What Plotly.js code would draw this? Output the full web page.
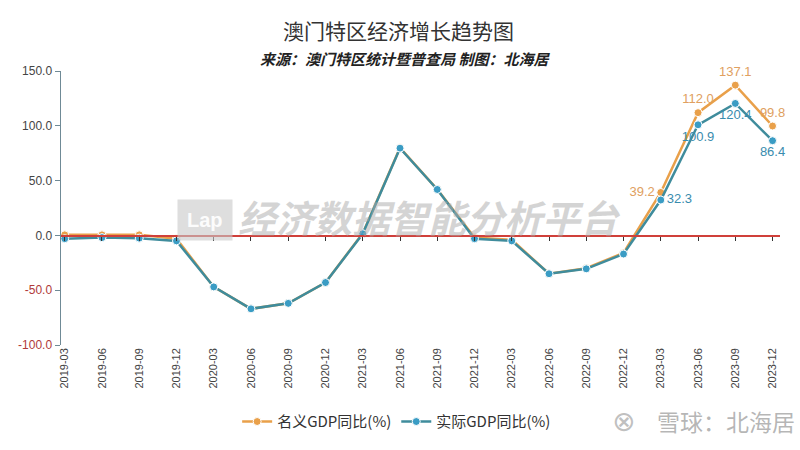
<!DOCTYPE html>
<html>
<head>
<meta charset="utf-8">
<script src="https://cdn.plot.ly/plotly-3.0.1.min.js"></script>
<style>html,body{margin:0;padding:0;background:#fff;}#chart{width:800px;height:450px;}</style>
</head>
<body>
<div id="chart"></div>
<script>
const quarters = ["2019-03","2019-06","2019-09","2019-12","2020-03","2020-06","2020-09","2020-12",
  "2021-03","2021-06","2021-09","2021-12","2022-03","2022-06","2022-09","2022-12",
  "2023-03","2023-06","2023-09","2023-12"];
const nominalGDP = [0.5,0.5,0.5,-3,-47,-67,-62,-43,2,80,42,-2,-4,-35,-30,-16,39.2,112.0,137.1,99.8];
const realGDP = [-3,-2,-2.5,-5,-47,-67,-62,-43,1.5,79.6,41.9,-3,-5,-35,-30.5,-17,32.3,100.9,120.4,86.4];
const nominalLabels = ["","","","","","","","","","","","","","","","","39.2","112.0","137.1","99.8"];
const realLabels = ["","","","","","","","","","","","","","","","","32.3","100.9","120.4","86.4"];
const yTicks = [-100,-50,0,50,100,150];

const orange = '#e9a04a';
const blueLine = '#3f8c9c';
const blueMarker = '#3a9cc4';

const nomPos = nominalLabels.map((t,i)=> i===16 ? 'middle left' : 'top center');
const realPos = realLabels.map((t,i)=> i===16 ? 'middle right' : 'bottom center');

const traces = [
  {x: quarters, y: nominalGDP, type:'scatter', mode:'lines+markers+text', name:'名义GDP同比(%)',
   line:{color:orange, width:2.5}, marker:{color:orange, size:8, line:{color:'#fff', width:1}},
   text: nominalLabels, textposition: nomPos, textfont:{color:'#e0a060', size:13, family:'Liberation Sans, Arial'},
   cliponaxis:false},
  {x: quarters, y: realGDP, type:'scatter', mode:'lines+markers+text', name:'实际GDP同比(%)',
   line:{color:blueLine, width:2.5}, marker:{color:blueMarker, size:8, line:{color:'#fff', width:1}},
   text: realLabels, textposition: realPos, textfont:{color:'#3a8cae', size:13, family:'Liberation Sans, Arial'},
   cliponaxis:false},
  {x: quarters, y: quarters.map(()=>0), xaxis:'x2', yaxis:'y', type:'scatter', mode:'lines',
   line:{color:'rgba(0,0,0,0)'}, showlegend:false, hoverinfo:'skip'}
];

const tickText = yTicks.map(v => {
  const s = v.toFixed(1);
  return v < 0 ? '<span style="color:#b03a3a">' + s + '</span>' : s;
});

const layout = {
  width: 800, height: 450,
  paper_bgcolor:'#fff', plot_bgcolor:'#fff',
  margin:{l:61, r:20, t:71, b:102},
  font:{family:'Liberation Sans, Arial, sans-serif', color:'#444'},
  showlegend:true,
  legend:{orientation:'h', x:0.245, y:-0.22, yanchor:'top', xanchor:'left',
    font:{family:'Noto Sans CJK SC, Liberation Sans', size:15, color:'#333'}, itemwidth:30},
  xaxis:{type:'category', categoryorder:'array', categoryarray:quarters, range:[-0.1,19.2],
    showline:false, showgrid:false, zeroline:false, ticks:'', tickangle:-90,
    tickfont:{size:11, color:'#444'}, fixedrange:true},
  xaxis2:{type:'category', categoryorder:'array', categoryarray:quarters, range:[-0.1,19.2],
    overlaying:'x', anchor:'free', position:0.4, showline:true, linecolor:'#d0403a', linewidth:1.2,
    ticks:'outside', ticklen:4, tickcolor:'#333', showticklabels:false, showgrid:false, zeroline:false},
  yaxis:{range:[-100,150], tickvals:yTicks, ticktext:tickText, showgrid:false, zeroline:false,
    showline:true, linecolor:'#6f8a96', linewidth:1.5, ticks:'outside', ticklen:5, tickcolor:'#6f8a96',
    tickfont:{size:12, color:'#444'}},
  annotations:[
    {text:'澳门特区经济增长趋势图', xref:'paper', yref:'paper', x:0.47, y:1.148, xanchor:'center', yanchor:'middle',
     showarrow:false, font:{family:'Noto Sans CJK SC', size:21, color:'#333'}},
    {text:'<i><b>来源：澳门特区统计暨普查局 制图：北海居</b></i>', xref:'paper', yref:'paper', x:0.478, y:1.047,
     xanchor:'center', yanchor:'middle', showarrow:false, font:{family:'Noto Sans CJK SC', size:15, color:'#222'}},
    {text:'<b><i>经济数据智能分析平台</i></b>', xref:'paper', yref:'paper', x:0.513, y:0.469, xanchor:'center', yanchor:'middle',
     showarrow:false, font:{family:'Noto Sans CJK SC', size:38, color:'rgba(170,170,170,0.5)'}},
    {text:'<b>Lap</b>', xref:'paper', yref:'paper', x:0.2, y:0.455, xanchor:'center', yanchor:'middle',
     showarrow:false, bgcolor:'rgba(200,200,200,0.6)', borderpad:9,
     font:{family:'Liberation Sans', size:20, color:'rgba(255,255,255,0.95)'}},
    {text:'雪球：北海居', xref:'paper', yref:'paper', x:0.925, y:-0.278, xanchor:'center', yanchor:'middle',
     showarrow:false, font:{family:'Noto Sans CJK SC', size:23, color:'rgba(150,150,150,0.7)'}},
    {text:'⊗', xref:'paper', yref:'paper', x:0.782, y:-0.278, xanchor:'center', yanchor:'middle',
     showarrow:false, font:{family:'DejaVu Sans', size:28, color:'rgba(150,150,150,0.6)'}}
  ]
};

Plotly.newPlot('chart', traces, layout, {displayModeBar:false, staticPlot:true});
</script>
</body>
</html>
